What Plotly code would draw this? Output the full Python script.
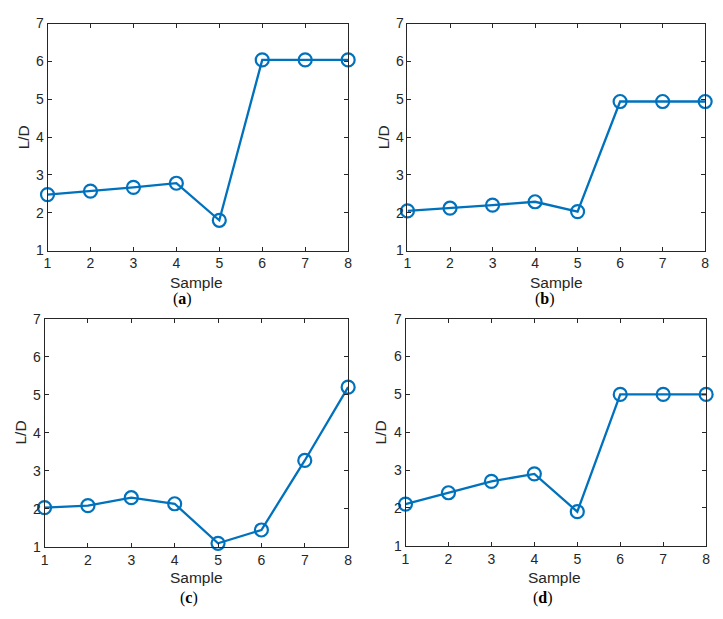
import plotly.graph_objects as go

samples = [1, 2, 3, 4, 5, 6, 7, 8]
ld_a = [2.48, 2.57, 2.67, 2.78, 1.80, 6.04, 6.04, 6.04]
ld_b = [2.05, 2.12, 2.20, 2.29, 2.03, 4.94, 4.94, 4.94]
ld_c = [2.03, 2.08, 2.29, 2.13, 1.09, 1.44, 3.27, 5.20]
ld_d = [2.10, 2.40, 2.70, 2.90, 1.90, 5.00, 5.00, 5.00]
x_ticks = [1, 2, 3, 4, 5, 6, 7, 8]
y_ticks = [1, 2, 3, 4, 5, 6, 7]
captions = ["a", "b", "c", "d"]
series = [ld_a, ld_b, ld_c, ld_d]

W, H = 723, 619
# pixel boxes: left, right, top, bottom
boxes = [(44, 348, 16, 249), (408, 709, 16, 249), (41, 348, 319, 553), (406, 710, 319, 552)]
cap_pos = [(181, 299), (547, 299), (187, 606), (545, 606)]
xlab_pos = [(195, 282), (559, 282), (195, 585), (557, 585)]
ylab_pos = [(20, 133), (384, 133), (17, 436), (381, 436)]

LINE = "#0072BD"
AX = "#262626"
FONT = "Liberation Sans, Arial, Helvetica, sans-serif"

fig = go.Figure()
for i, (vals, box) in enumerate(zip(series, boxes)):
    n = "" if i == 0 else str(i + 1)
    fig.add_trace(go.Scatter(
        x=samples, y=vals, mode="lines+markers",
        line=dict(color=LINE, width=2.3),
        marker=dict(symbol="circle-open", size=13, color=LINE, line=dict(width=2.2, color=LINE)),
        xaxis="x" + n, yaxis="y" + n, cliponaxis=False, showlegend=False,
    ))
    l, r, t, b = box
    axcommon = dict(showline=True, linecolor=AX, linewidth=1, mirror="ticks",
                    ticks="inside", ticklen=4, tickcolor=AX, tickwidth=1,
                    showgrid=False, zeroline=False,
                    tickfont=dict(family=FONT, size=14, color=AX))
    fig.layout["xaxis" + n] = dict(
        domain=[l / W, r / W], anchor="y" + n, range=[1, 8], tickvals=x_ticks,
        **axcommon)
    fig.layout["yaxis" + n] = dict(
        domain=[1 - b / H, 1 - t / H], anchor="x" + n, range=[1, 7], tickvals=y_ticks,
        **axcommon)
    cx, cy = cap_pos[i]
    fig.add_annotation(x=cx / W, y=1 - cy / H, xref="paper", yref="paper",
                       text="(<b>" + captions[i] + "</b>)", showarrow=False,
                       font=dict(family="Liberation Serif, Times New Roman, serif", size=16, color="#000000"),
                       xanchor="center", yanchor="middle")
    sx, sy = xlab_pos[i]
    fig.add_annotation(x=sx / W, y=1 - sy / H, xref="paper", yref="paper",
                       text="Sample", showarrow=False,
                       font=dict(family=FONT, size=15.5, color=AX),
                       xanchor="center", yanchor="middle")
    lx, ly = ylab_pos[i]
    fig.add_annotation(x=lx / W, y=1 - ly / H, xref="paper", yref="paper",
                       text="L/D", showarrow=False, textangle=-90,
                       font=dict(family=FONT, size=15.5, color=AX),
                       xanchor="center", yanchor="middle")

fig.update_layout(width=W, height=H, margin=dict(l=0, r=0, t=0, b=0),
                  paper_bgcolor="white", plot_bgcolor="white")
fig.write_html("out.html", config={"displayModeBar": False},
               post_script="document.body.style.margin='0';")
